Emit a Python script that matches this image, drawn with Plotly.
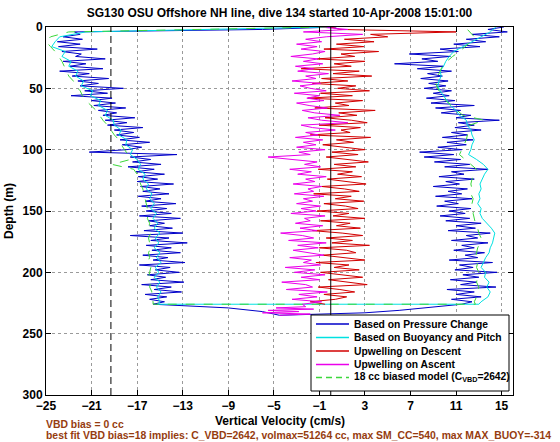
import plotly.graph_objects as go

# ---------------- data ----------------
# Descent, 2 m depth steps starting at 0 m
blue_dn = [0.5, -6.0, -22.5, -22.0, -23.5, -21.8, -24.0, -22.0, -23.9, -20.5,
           -23.6, -21.9, -22.4, -19.8, -23.5, -21.5, -22.9, -20.0, -23.8, -21.2,
           -22.7, -19.5, -22.2, -20.4, -22.0, -18.2, -21.6, -19.6, -22.8, -19.2,
           -21.0, -18.9, -20.8, -18.0, -20.4, -18.8, -20.0, -17.2, -19.8, -17.9,
           -19.6, -16.5, -19.0, -17.3, -18.8, -16.8, -18.5, -15.9, -18.3, -16.6,
           -17.9, -21.2, -13.5, -17.6, -15.8, -17.4, -14.9, -17.8, -15.5, -17.1,
           -14.6, -16.9, -15.2, -17.0, -13.8, -16.7, -15.0, -16.5, -14.2, -16.9,
           -14.9, -16.3, -13.6, -16.6, -14.4, -16.2, -14.0, -16.8, -13.2, -16.0,
           -14.6, -15.9, -13.9, -16.4, -13.0, -17.6, -14.2, -15.8, -12.6, -16.2,
           -14.0, -15.7, -13.2, -16.5, -14.3, -15.6, -12.8, -16.8, -14.1, -15.4,
           -13.3, -16.1, -14.5, -15.8, -12.9, -16.6, -14.0, -15.5, -13.1, -16.3,
           -14.4, -15.9, -14.6, -15.6]
red_dn = [0.0, 0.8, 11.0, 3.5, 5.0, 1.2, 3.8, 0.5, 2.9, -0.6,
          4.2, 0.9, 2.1, -1.2, 3.0, 0.3, 1.8, -2.6, 2.5, 0.2,
          3.6, -0.8, 1.5, -1.6, 2.2, 0.6, 3.4, -0.9, 1.9, -2.0,
          2.8, 0.4, 1.6, -1.4, 3.9, 0.7, 2.3, -0.5, 1.8, 3.2,
          -1.0, 2.6, 0.9, 1.7, -1.8, 3.5, 0.5, 2.0, -0.7, 1.4,
          3.0, 0.1, 2.4, -0.4, 1.6, 3.3, 0.3, 2.2, -1.1, 1.9,
          0.6, 2.7, -0.3, 1.5, 3.1, -0.8, 1.2, 2.5, -1.5, 1.8,
          0.4, 2.9, -0.6, 1.3, 2.4, -1.2, 1.6, 0.2, 3.0, -0.9,
          1.7, 0.5, 2.6, -1.6, 1.0, 2.8, -0.4, 1.9, 0.1, 3.4,
          -1.0, 1.4, 2.2, -0.7, 1.1, 3.0, -1.3, 1.6, 0.3, 2.5,
          -0.9, 1.2, 2.8, -0.2, 1.5, 3.2, -1.1, 0.8, 2.1, -0.6,
          1.4, 0.4, -1.8, -0.5]
# Descent, 4 m depth steps starting at 0 m
cyan_dn = [-0.5, -21.5, -23.8, -24.2, -24.5, -23.3, -23.6, -22.8, -23.0, -22.2,
           -22.4, -21.7, -21.9, -20.9, -21.1, -20.2, -20.4, -19.6, -19.8, -19.1,
           -19.0, -18.4, -18.6, -17.9, -18.0, -17.4, -17.6, -17.0, -16.7, -16.9,
           -16.3, -16.5, -16.0, -16.2, -15.7, -15.9, -15.5, -15.8, -15.3, -15.6,
           -15.2, -15.5, -15.0, -15.4, -15.1, -15.5, -15.0, -15.3, -14.9, -15.4,
           -15.1, -15.5, -15.0, -15.3, -14.9, -15.2, -15.0]
green_dn = [-0.3, -23.0, -24.6, -25.0, -24.6, -24.2, -23.9, -23.6, -23.4, -23.2,
            -23.0, -22.6, -22.4, -22.0, -21.8, -21.5, -21.0, -20.6, -20.3, -20.0,
            -19.6, -19.3, -19.0, -18.6, -18.4, -18.1, -17.8, -17.6, -19.2, -17.3,
            -17.0, -16.8, -16.7, -16.5, -16.4, -16.3, -16.2, -16.1, -16.0, -16.1,
            -15.9, -16.0, -15.8, -16.0, -15.9, -15.8, -16.0, -15.9, -16.1, -15.8,
            -15.9, -16.0, -15.8, -15.9, -15.7, -15.8, -15.6]
# Turn at the bottom of the dive
turn_depth = [226, 226]
cyan_turn = [-15.2, 13.0]
green_turn = [-15.6, 12.7]
blue_bot_depth = [229, 232, 235, 234, 233, 231, 228]
blue_bot = [-9.0, -6.0, -4.5, -1.0, 3.0, 6.0, 9.0]
mag_bot_depth = [235, 234, 233, 232, 231, 230, 229, 228]
mag_bot = [-4.5, -1.8, -6.0, -2.8, -5.5, -1.5, -4.8, -2.2]
# Ascent, 2 m depth steps from 226 m up to 0 m
blue_up = [11.5, 12.4, 10.6, 13.2, 11.0, 12.6, 10.2, 14.5, 11.4, 12.8,
           10.5, 13.0, 11.6, 14.6, 10.9, 12.5, 11.3, 14.2, 10.4, 12.9,
           11.8, 13.5, 10.8, 12.6, 11.5, 13.8, 10.6, 12.9, 11.9, 14.0,
           10.3, 12.7, 11.0, 13.2, 10.1, 12.2, 9.6, 11.8, 10.4, 12.3,
           9.3, 11.2, 10.0, 12.4, 9.2, 11.5, 10.3, 12.0, 9.0, 11.3,
           10.1, 12.6, 9.5, 11.7, 10.6, 13.8, 10.0, 12.2, 9.1, 11.4,
           8.2, 10.8, 7.8, 11.5, 9.4, 11.9, 10.2, 12.5, 9.8, 12.0,
           10.6, 13.2, 10.9, 12.6, 11.2, 14.8, 11.0, 12.3, 9.7, 11.4,
           9.2, 12.6, 8.8, 10.9, 8.4, 10.4, 9.0, 10.6, 8.2, 10.1,
           8.6, 10.3, 7.9, 9.8, 8.5, 10.6, 7.6, 9.9, 5.6, 9.4,
           8.0, 10.5, 6.9, 11.2, 9.6, 13.1, 10.8, 13.6, 11.9, 14.8,
           12.4, 15.5, 13.8, 15.2]
mag_up = [-2.5, -0.8, -3.4, -1.2, -2.8, -0.3, -3.9, -1.6, -2.2, -4.3,
          -1.0, -2.6, -0.5, -3.2, -1.4, -4.0, -0.9, -2.4, -1.7, -3.6,
          -0.6, -2.1, -3.3, -1.1, -2.9, -0.4, -3.7, -1.5, -2.5, -4.4,
          -1.2, -2.7, -0.7, -3.1, -1.8, -2.3, -0.5, -3.5, -1.3, -2.6,
          -0.9, -3.0, -1.6, -2.4, -0.6, -3.2, -1.5, -2.0, -0.8, -3.3,
          -1.4, -2.2, -0.4, -2.9, -1.7, -3.6, -0.9, -2.3, -1.2, -3.4,
          -5.5, -1.8, -2.8, -0.5, -3.0, -1.3, -2.4, -0.7, -3.1, -1.1,
          -2.2, 0.4, -1.6, -2.6, 1.5, -0.8, -2.0, 0.8, -1.4, -2.5,
          -0.3, -1.9, -3.0, -0.6, -2.1, -1.0, -3.2, -0.4, -1.8, -2.7,
          -0.9, -3.4, -1.3, -2.2, -0.2, -2.9, -1.5, -3.1, -0.7, -2.4,
          -1.1, -3.5, -1.6, -0.5, -2.6, -1.2, -3.0, -0.8, -2.2, -0.4,
          2.8, -2.4, 1.5, -1.0]
# Ascent, 4 m depth steps from 224 m up to 0 m
cyan_up = [13.2, 13.8, 14.0, 13.7, 13.9, 13.5, 13.6, 13.2, 13.4, 13.6,
           13.9, 14.0, 14.2, 14.3, 14.4, 14.1, 13.7, 13.3, 13.1, 13.2,
           12.9, 13.1, 13.0, 13.2, 13.1, 13.3, 13.5, 13.8, 13.4, 12.8,
           12.1, 12.3, 12.4, 12.6, 12.4, 12.3, 12.0, 11.9, 11.3, 11.0,
           10.5, 10.2, 9.9, 9.6, 9.4, 9.5, 9.7, 9.6, 9.9, 10.1,
           10.4, 10.8, 11.6, 12.4, 13.2, 14.0, 14.5]
green_up = [12.6, 12.8, 12.9, 13.0, 12.8, 12.9, 13.0, 12.8, 12.9, 12.7,
            12.8, 12.9, 13.1, 13.2, 13.0, 12.9, 12.7, 12.6, 12.5, 12.6,
            12.4, 12.5, 12.3, 12.4, 12.3, 12.4, 12.5, 12.8, 12.3, 11.8,
            11.3, 11.5, 11.7, 11.9, 12.0, 12.1, 12.2, 13.5, 11.6, 11.1,
            10.6, 10.1, 9.8, 9.5, 9.3, 9.2, 9.4, 9.6, 9.8, 10.2,
            10.7, 11.3, 11.8, 12.3, 12.6, 12.2, 11.8]

stall_line_x = -19.3
zero_line_x = 0
x_ticks = [-25, -21, -17, -13, -9, -5, -1, 3, 7, 11, 15]
y_ticks = [0, 50, 100, 150, 200, 250, 300]

names = ["Based on Pressure Change", "Based on Buoyancy and Pitch",
         "Upwelling on Descent", "Upwelling on Ascent",
         "18 cc biased model (C<sub>VBD</sub>=2642)"]
colors = ["rgb(0,0,200)", "rgb(0,225,225)", "rgb(210,0,0)",
          "rgb(235,0,235)", "rgb(60,215,60)"]
dashes = ["solid", "solid", "solid", "solid", "dash"]

title_text = "SG130 OSU Offshore NH line, dive 134 started 10-Apr-2008 15:01:00"
x_title = "Vertical Velocity (cm/s)"
y_title = "Depth (m)"
note1 = "VBD bias = 0 cc"
note2 = ("best fit VBD bias=18 implies: C_VBD=2642, volmax=51264 cc, "
         "max SM_CC=540, max MAX_BUOY=-314")

# ---------------- depth grids ----------------
d2_dn = list(range(0, 2 * len(blue_dn), 2))
d4_dn = list(range(0, 4 * len(cyan_dn), 4))
d2_up = list(range(2 * (len(blue_up) - 1), -1, -2))
d4_up = list(range(4 * (len(cyan_up) - 1), -1, -4))

FONT = "Liberation Sans, Arial, Helvetica, sans-serif"
W, H = 560, 442
L, R, T, B = 46, 47, 27, 47
pw, ph = W - L - R, H - T - B


def px_x(p):
    return (p - L) / pw


def px_y(p):
    return (H - B - p) / ph


fig = go.Figure()
series = [
    (blue_dn + blue_bot + blue_up, d2_dn + blue_bot_depth + d2_up),
    (cyan_dn + cyan_turn + cyan_up, d4_dn + turn_depth + d4_up),
    (red_dn, d2_dn),
    (mag_bot + mag_up, mag_bot_depth + d2_up),
    (green_dn + green_turn + green_up, d4_dn + turn_depth + d4_up),
]
for (xs, ys), nm, col, ds in zip(series, names, colors, dashes):
    fig.add_trace(go.Scatter(x=xs, y=ys, mode="lines", name=nm,
                             line=dict(color=col, width=1, dash=ds),
                             showlegend=False))

shapes = [
    dict(type="line", xref="x", yref="paper", x0=zero_line_x, x1=zero_line_x,
         y0=0, y1=1, line=dict(color="black", width=1), layer="above"),
    dict(type="line", xref="x", yref="paper", x0=stall_line_x, x1=stall_line_x,
         y0=0, y1=1, line=dict(color="black", width=1, dash="7px,4px"),
         layer="above"),
    dict(type="rect", xref="paper", yref="paper", x0=px_x(311), x1=px_x(509),
         y0=px_y(391), y1=px_y(315), line=dict(color="black", width=1),
         fillcolor="white", layer="above"),
]
annotations = []
leg_rows = [324, 337.5, 351, 364.5, 377.5]
for yy, nm, col, ds in zip(leg_rows, names, colors, dashes):
    shapes.append(dict(type="line", xref="paper", yref="paper",
                       x0=px_x(316), x1=px_x(349), y0=px_y(yy), y1=px_y(yy),
                       line=dict(color=col, width=1.5,
                                 dash="6px,4px" if ds == "dash" else "solid"),
                       layer="above"))
    annotations.append(dict(text=nm, xref="paper", yref="paper",
                            x=px_x(352), y=px_y(yy), xanchor="left",
                            yanchor="middle", showarrow=False,
                            font=dict(family=FONT, size=10.3, color="black",
                                      weight="bold")))
annotations.append(dict(text=x_title, xref="paper", yref="paper",
                        x=0.5, y=px_y(421), xanchor="center",
                        yanchor="middle", showarrow=False,
                        font=dict(family=FONT, size=12, color="black",
                                  weight="bold")))
brown = "rgb(150,60,15)"
annotations.append(dict(text=note1, xref="paper", yref="paper", x=px_x(44),
                        y=px_y(424), xanchor="left", yanchor="middle",
                        showarrow=False,
                        font=dict(family=FONT, size=10.4, color=brown,
                                  weight="bold")))
annotations.append(dict(text=note2, xref="paper", yref="paper", x=px_x(44),
                        y=px_y(435.5), xanchor="left", yanchor="middle",
                        showarrow=False,
                        font=dict(family=FONT, size=10.4, color=brown,
                                  weight="bold")))

axis_common = dict(showline=True, linecolor="black", linewidth=1,
                   mirror="ticks", ticks="inside", ticklen=5,
                   tickcolor="black", showgrid=True, gridcolor="#9a9a9a",
                   griddash="dot", gridwidth=1, zeroline=False,
                   tickfont=dict(family=FONT, size=12, color="black",
                                 weight="bold"))
fig.update_layout(
    width=W, height=H,
    margin=dict(l=L, r=R, t=T, b=B, autoexpand=False),
    paper_bgcolor="white", plot_bgcolor="white",
    font=dict(family=FONT, color="black"),
    title=dict(text=title_text, x=0.5, xref="paper", xanchor="center",
               y=1 - 13 / H, yref="container", yanchor="middle",
               font=dict(family=FONT, size=12, color="black", weight="bold")),
    xaxis=dict(range=[-25, 16], tickvals=x_ticks, **axis_common),
    yaxis=dict(range=[300, 0], tickvals=y_ticks,
               title=dict(text=y_title, standoff=6,
                          font=dict(family=FONT, size=12, color="black",
                                    weight="bold")),
               **axis_common),
    shapes=shapes, annotations=annotations, showlegend=False,
)
fig.write_html("out.html", config={"displayModeBar": False},
               post_script="document.body.style.margin='0px';"
                           "document.body.style.padding='0px';")
